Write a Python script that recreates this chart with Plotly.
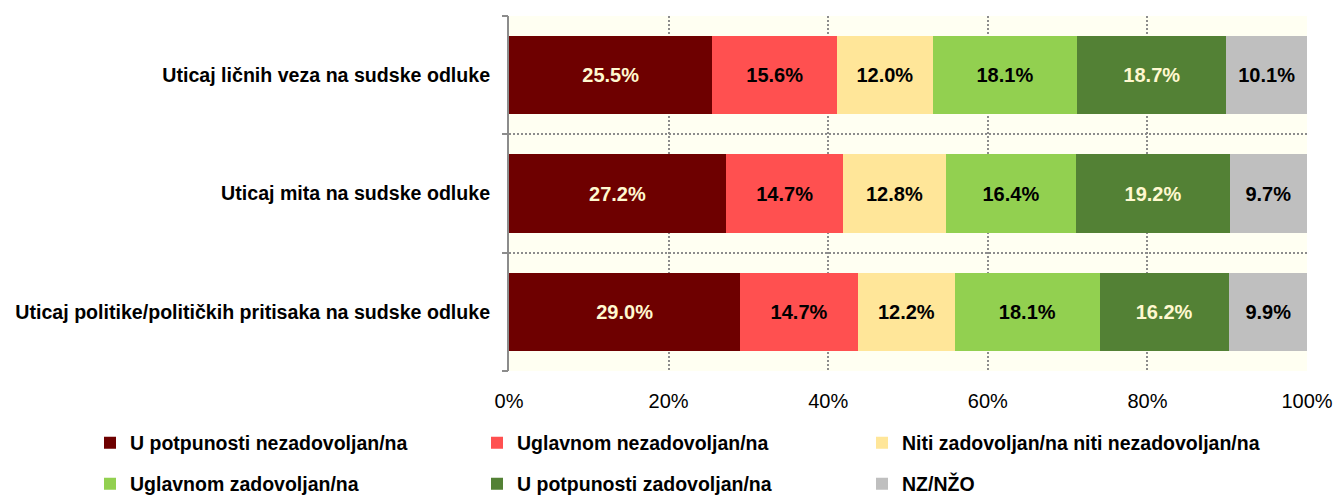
import plotly.graph_objects as go

# Survey statements (top to bottom) and answer shares in percent
statements = [
    "Uticaj ličnih veza na sudske odluke",
    "Uticaj mita na sudske odluke",
    "Uticaj politike/političkih pritisaka na sudske odluke",
]
answers = [
    "U potpunosti nezadovoljan/na",
    "Uglavnom nezadovoljan/na",
    "Niti zadovoljan/na niti nezadovoljan/na",
    "Uglavnom zadovoljan/na",
    "U potpunosti zadovoljan/na",
    "NZ/NŽO",
]
fully_dissatisfied = [25.5, 27.2, 29.0]
mostly_dissatisfied = [15.6, 14.7, 14.7]
neutral = [12.0, 12.8, 12.2]
mostly_satisfied = [18.1, 16.4, 18.1]
fully_satisfied = [18.7, 19.2, 16.2]
dont_know = [10.1, 9.7, 9.9]
x_ticks = [0, 20, 40, 60, 80, 100]
x_tick_labels = ["0%", "20%", "40%", "60%", "80%", "100%"]

series = [fully_dissatisfied, mostly_dissatisfied, neutral,
          mostly_satisfied, fully_satisfied, dont_know]
colors = ["#6E0000", "#FF5050", "#FFE699", "#92D050", "#538135", "#BFBFBF"]
text_colors = ["#FFF8D0", "#000000", "#000000", "#000000", "#FFF8D0", "#000000"]

# one single-entry legend per answer, laid out as a 3 x 2 grid (pixels)
legend_ids = ["legend", "legend2", "legend3", "legend4", "legend5", "legend6"]
legend_left = [90, 477, 862, 90, 477, 862]
legend_mid = [443, 443, 443, 484, 484, 484]

FONT = "Liberation Sans Narrow, Arial Narrow, Liberation Sans, Arial, sans-serif"
W, H = 1333, 497
GRID = "#8C8C8C"

fig = go.Figure()
for name, vals, col, tcol, lg in zip(answers, series, colors, text_colors, legend_ids):
    fig.add_trace(go.Bar(
        y=statements, x=vals, name=name, orientation="h",
        marker=dict(color=col, line=dict(width=0)),
        text=[f"{v:.1f}%" for v in vals],
        textposition="inside", insidetextanchor="middle",
        textfont=dict(family=FONT, size=20, color=tcol, weight="bold"),
        legend=lg, hoverinfo="skip",
    ))

# empty trace that activates the overlaid boundary axis
fig.add_trace(go.Scatter(x=[], y=[], yaxis="y2", showlegend=False, hoverinfo="skip"))

legend_style = dict(
    orientation="h", xref="container", yref="container",
    xanchor="left", yanchor="middle",
    font=dict(family=FONT, size=19.5, color="#000000", weight="bold"),
    bgcolor="rgba(0,0,0,0)", borderwidth=0, itemwidth=30,
    itemclick=False, itemdoubleclick=False,
)
legends = {
    lg: dict(legend_style, x=lx / W, y=1 - ly / H)
    for lg, lx, ly in zip(legend_ids, legend_left, legend_mid)
}

fig.update_layout(
    width=W, height=H,
    margin=dict(l=509, r=26, t=16, b=126, autoexpand=False),
    barmode="stack", bargap=0.34,
    paper_bgcolor="#FFFFFF", plot_bgcolor="#FFFFF2",
    showlegend=True,
    uniformtext=dict(minsize=8, mode="show"),
    xaxis=dict(
        range=[0, 100], tickvals=x_ticks, ticktext=x_tick_labels,
        showgrid=True, gridcolor=GRID, griddash="2px,2px", gridwidth=2,
        zeroline=False, showline=False, ticks="", ticklabelstandoff=16,
        tickfont=dict(family=FONT, size=20, color="#000000"),
        automargin=False, fixedrange=True,
    ),
    yaxis=dict(
        type="category", categoryorder="array", categoryarray=statements,
        autorange="reversed", showgrid=False, ticks="",
        showline=True, linecolor=GRID, linewidth=2,
        tickfont=dict(family=FONT, size=19.6, color="#000000", weight="bold"),
        ticklabelstandoff=13, automargin=False, fixedrange=True,
    ),
    # boundary lines between the statements with short ticks on the left
    yaxis2=dict(
        overlaying="y", side="left", range=[2.5, -0.5],
        tickvals=[-0.5, 0.5, 1.5, 2.5], showticklabels=False,
        showgrid=True, gridcolor=GRID, griddash="2px,2px", gridwidth=2,
        ticks="outside", ticklen=6, tickwidth=2, tickcolor=GRID,
        zeroline=False, showline=False, automargin=False, fixedrange=True,
    ),
    **legends,
)

fig.write_html("out.html")
